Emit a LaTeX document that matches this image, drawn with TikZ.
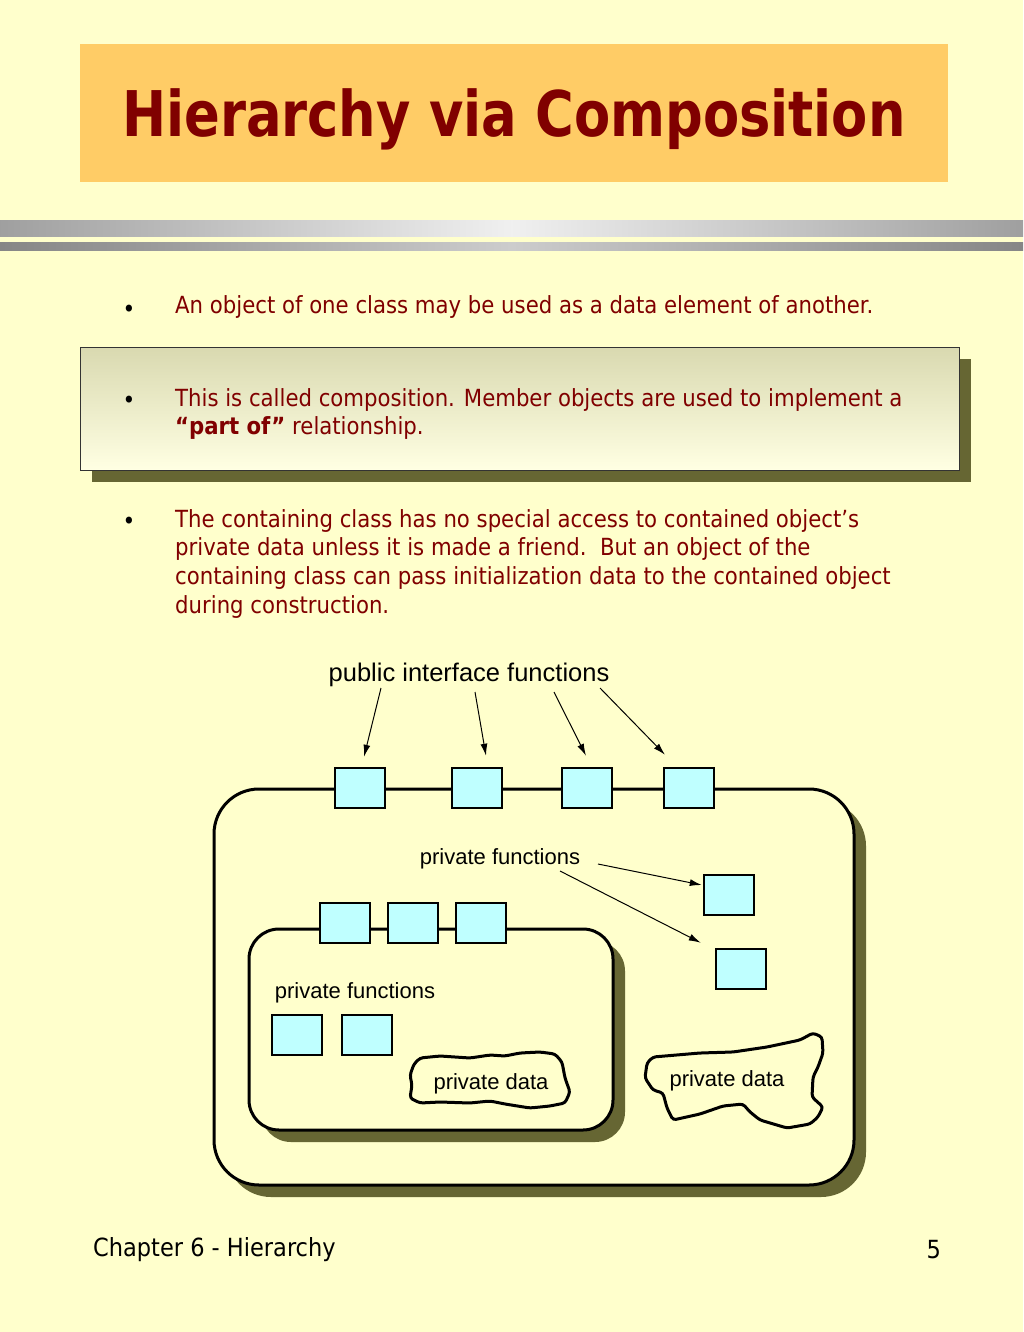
\documentclass[tikz,border=0pt]{standalone}
\usepackage{fontspec}
\usepackage{tikz}
\usetikzlibrary{arrows.meta,positioning}
\newfontfamily\tahoma{DejaVu Sans Condensed}
\newfontfamily\tahomatitle[FakeStretch=0.93]{DejaVu Sans Condensed Bold}
\newfontfamily\arial{Liberation Sans}
\definecolor{bgyellow}{HTML}{FFFFCC}
\definecolor{titleorange}{HTML}{FFCC66}
\definecolor{darkred}{HTML}{800000}
\definecolor{boxcyan}{HTML}{BFFFFF}
\definecolor{shadowolive}{HTML}{666633}
\definecolor{paneltop}{HTML}{D9D9B0}
\definecolor{panelbot}{HTML}{FFFFE3}

\begin{document}
\begin{tikzpicture}[x=1pt,y=-1pt,
  memfun/.style={draw,fill=boxcyan,line width=2.5pt,minimum width=50pt,minimum height=40pt,inner sep=0pt},
  lbl/.style={font=\arial\fontsize{22}{26}\selectfont,inner sep=0pt},
  bodytxt/.style={font=\tahoma\fontsize{23.6}{28.7}\selectfont,text=darkred,align=left,anchor=north west,inner sep=0pt},
  bul/.style={font=\tahoma\fontsize{24}{28}\selectfont,inner sep=0pt}]
\useasboundingbox (0,0) rectangle (1023,1332);
\fill[bgyellow] (0,0) rectangle (1023,1332);
% title
\fill[titleorange] (80,44) rectangle (948,182);
\node[font=\tahomatitle\fontsize{63}{70}\selectfont,text=darkred] (title) at (514,119) {Hierarchy via Composition};
\shade[left color=gray!75,right color=gray!75,middle color=gray!12] (0,221) rectangle (1023,237);
\shade[left color=gray!95,right color=gray!95,middle color=gray!40] (0,243) rectangle (1023,251);
% bullets
\fill[shadowolive] (92,359) rectangle (971,482);
\shade[top color=paneltop,bottom color=panelbot,draw=black!80,line width=1pt] (80,347) rectangle (959,470);
\node[bul] (b1) at (129,311) {•};
\node[bul] (b2) at (129,402) {•};
\node[bul] (b3) at (129,523) {•};
\node[bodytxt] (t1) at (175,295) {An object of one class may be used as a data element of another.};
\node[bodytxt] (t2) at (175,388) {This is called composition. Member objects are used to implement a\\
  {\bfseries “part of”} relationship.};
\node[bodytxt] (t3) at (175,509) {The containing class has no special access to contained object’s\\
  private data unless it is made a friend.\ \ But an object of the\\
  containing class can pass initialization data to the contained object\\
  during construction.};
% outer class
\fill[shadowolive,rounded corners=45] (226,801) rectangle (866,1197);
\draw[line width=3pt,fill=bgyellow,rounded corners=45] (214,789) rectangle (854,1185);
% inner class
\fill[shadowolive,rounded corners=30] (261,941) rectangle (625,1142);
\draw[line width=3pt,fill=bgyellow,rounded corners=30] (249,929) rectangle (613,1130);
% private data
\draw[line width=3pt,rounded corners=3pt] (414,1064) -- (420,1058) -- (440,1056) -- (470,1058) -- (490,1055)
  -- (505,1056) -- (520,1053) -- (540,1052) -- (555,1054) -- (562,1062) -- (565,1078) -- (570,1092)
  -- (565,1103) -- (550,1106) -- (530,1108) -- (505,1104) -- (490,1101) -- (470,1103) -- (440,1102)
  -- (420,1103) -- (410,1098) -- (412,1085) -- (410,1075) -- cycle;
\draw[line width=3pt,rounded corners=3pt] (647,1063) -- (653,1057) -- (700,1053) -- (733,1052) -- (767,1047)
  -- (800,1040) -- (813,1033) -- (822,1037) -- (823,1053) -- (818,1067) -- (813,1077) -- (812,1097)
  -- (823,1107) -- (818,1117) -- (810,1124) -- (787,1128) -- (760,1120) -- (750,1112) -- (743,1104)
  -- (723,1106) -- (700,1114) -- (673,1120) -- (667,1108) -- (663,1093) -- (653,1090) -- (645,1078) -- cycle;
\node[lbl] (pd1) at (491,1084) {private data};
\node[lbl] (pd2) at (727,1081) {private data};
% member functions
\node[memfun] (p1) at (360,788) {};
\node[memfun] (p2) at (477,788) {};
\node[memfun] (p3) at (587,788) {};
\node[memfun] (p4) at (689,788) {};
\node[memfun] (r1) at (729,895) {};
\node[memfun] (r2) at (741,969) {};
\node[memfun] (q1) at (345,923) {};
\node[memfun] (q2) at (413,923) {};
\node[memfun] (q3) at (481,923) {};
\node[memfun] (s1) at (297,1035) {};
\node[memfun] (s2) at (367,1035) {};
\node[lbl,font=\arial\fontsize{25.5}{30}\selectfont] (pub) at (469,675) {public interface functions};
\node[lbl] (pf1) at (500,859) {private functions};
\node[lbl] (pf2) at (355,993) {private functions};
\coordinate (a1) at (381,688);
\coordinate (a2) at (475,692);
\coordinate (a3) at (554,692);
\coordinate (a4) at (600,688);
\coordinate (a5) at (598,864);
\coordinate (a6) at (560,871);
\path[->,>={Latex[length=12pt,width=7pt]},line width=1pt]
(a1) edge ([xshift=4pt,yshift=10pt]p1.north)
(a2) edge ([xshift=9pt,yshift=11pt]p2.north)
(a3) edge ([xshift=-1pt,yshift=11pt]p3.north)
(a4) edge ([xshift=-24pt,yshift=12pt]p4.north)
(a5) edge ([xshift=-1pt,yshift=10pt]r1.west)
(a6) edge ([xshift=-14pt,yshift=5pt]r2.north west);
% footer
\node[font=\tahoma\fontsize{25}{28}\selectfont,anchor=west,inner sep=0pt] (chap) at (93,1250) {Chapter 6 - Hierarchy};
\node[font=\tahoma\fontsize{25}{28}\selectfont,anchor=east,inner sep=0pt] (page) at (941,1250) {5};
\end{tikzpicture}
\end{document}
